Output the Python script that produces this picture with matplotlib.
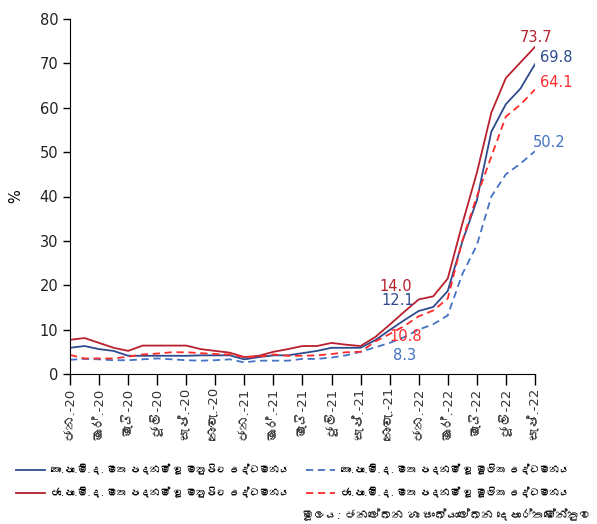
import numpy as np
import matplotlib
matplotlib.use("Agg")
from matplotlib import pyplot as plt
from matplotlib import font_manager
from matplotlib.ft2font import FT2Font


def find_font(ch):
    # look for an installed family that has the given glyph
    for f in font_manager.fontManager.ttflist:
        try:
            if ord(ch) in FT2Font(f.fname).get_charmap():
                return f.name
        except Exception:
            pass
    return None


sinhala = find_font("ක")
families = ["DejaVu Sans"]
if sinhala:
    families = ["DejaVu Sans", sinhala]
plt.rcParams["font.family"] = families

# Monthly data, Jan 2020 - Sep 2022 (%)
ncpi_headline = [7.7, 8.1, 7.0, 5.9, 5.2, 6.4, 6.4, 6.4, 6.4, 5.6, 5.2, 4.8,
                 3.8, 4.1, 5.0, 5.6, 6.3, 6.3, 7.0, 6.6, 6.3, 8.3, 11.1, 14.0,
                 16.8, 17.5, 21.5, 33.8, 45.3, 58.9, 66.7, 70.2, 73.7]
ccpi_headline = [5.9, 6.3, 5.6, 5.2, 4.1, 4.1, 4.1, 4.1, 4.1, 4.2, 4.2, 4.2,
                 3.3, 3.8, 4.2, 4.2, 4.7, 5.2, 5.9, 5.9, 5.9, 7.6, 9.9, 12.1,
                 14.2, 15.1, 18.7, 29.8, 39.1, 54.6, 60.8, 64.3, 69.8]
ncpi_core = [4.3, 3.5, 3.5, 3.5, 3.9, 4.4, 4.6, 4.9, 4.9, 4.7, 4.5, 4.4,
             3.8, 3.9, 4.4, 4.1, 4.1, 4.2, 4.5, 4.9, 5.0, 7.3, 9.0, 10.8,
             13.0, 14.3, 17.0, 30.0, 40.0, 49.0, 58.0, 60.7, 64.1]
ccpi_core = [3.2, 3.4, 3.3, 3.1, 3.1, 3.3, 3.5, 3.3, 3.1, 3.0, 3.1, 3.3,
             2.6, 3.0, 3.0, 3.0, 3.4, 3.4, 3.7, 4.2, 5.0, 6.0, 7.0, 8.3,
             10.0, 11.2, 13.2, 22.5, 29.0, 40.0, 45.0, 47.4, 50.2]

tick_labels = ["ජන.-20", "මාර්.-20", "මැයි-20", "ජූලි-20", "සැප්.-20", "නොවැ.-20",
               "ජන.-21", "මාර්.-21", "මැයි-21", "ජූලි-21", "සැප්.-21", "නොවැ.-21",
               "ජන.-22", "මාර්.-22", "මැයි-22", "ජූලි-22", "සැප්.-22"]

legend_labels = ["කො.පා.මි.ද. මත පදනම් වූ මතුපිට උද්ධමනය",
                 "ජා.පා.මි.ද. මත පදනම් වූ මතුපිට උද්ධමනය",
                 "කො.පා.මි.ද. මත පදනම් වූ මූලික උද්ධමනය",
                 "ජා.පා.මි.ද. මත පදනම් වූ මූලික උද්ධමනය"]
source = "මූලය: ජනලේඛන හා සංඛ්‍යාලේඛන දෙපාර්තමේන්තුව"

navy = "#2E4B8F"
darkred = "#B8202E"
red = "#FF2B2B"
blue = "#4472C4"
dash = (0, (4, 2.6))

n = np.arange(len(ncpi_headline))

fig = plt.figure(figsize=(5.97, 5.24), dpi=100)
ax = fig.add_axes([0.1173, 0.2863, 0.7787, 0.6774])

ax.plot(n, ccpi_headline, color=navy, lw=1.3, label=legend_labels[0])
ax.plot(n, ncpi_headline, color=darkred, lw=1.3, label=legend_labels[1])
ax.plot(n, ccpi_core, color=blue, lw=1.3, ls=dash, label=legend_labels[2])
ax.plot(n, ncpi_core, color=red, lw=1.3, ls=dash, label=legend_labels[3])

ax.set_xlim(0, 32)
ax.set_ylim(0, 80)
ax.set_yticks(np.arange(0, 81, 10))
ax.set_xticks(np.arange(0, 33, 2))
ax.set_xticklabels(tick_labels, rotation=90, fontsize=9.5, color="#333333")
ax.tick_params(axis="x", length=8, width=1, direction="out", pad=2)
ax.tick_params(axis="y", length=5, width=1, direction="out", labelsize=10.5,
               labelcolor="#222222")
for s in ["top", "right"]:
    ax.spines[s].set_visible(False)
ax.set_ylabel("%", fontsize=10.5, labelpad=12)

# end-of-series and Dec-21 value labels
fs = 10.5
last = len(n) - 1
ax.text(last + 0.07, ncpi_headline[-1] + 2.2, f"{ncpi_headline[-1]:.1f}", color=darkred,
        fontsize=fs, ha="center", va="center")
ax.text(last + 1.45, ccpi_headline[-1] + 1.6, f"{ccpi_headline[-1]:.1f}", color=navy,
        fontsize=fs, ha="center", va="center")
ax.text(last + 1.45, ncpi_core[-1] + 1.7, f"{ncpi_core[-1]:.1f}", color=red,
        fontsize=fs, ha="center", va="center")
ax.text(last + 0.97, ccpi_core[-1] + 1.9, f"{ccpi_core[-1]:.1f}", color=blue,
        fontsize=fs, ha="center", va="center")
ax.text(22.4, ncpi_headline[23] + 5.8, f"{ncpi_headline[23]:.1f}", color=darkred,
        fontsize=fs, ha="center", va="center")
ax.text(22.55, ccpi_headline[23] + 4.4, f"{ccpi_headline[23]:.1f}", color=navy,
        fontsize=fs, ha="center", va="center")
ax.text(23.1, ncpi_core[23] - 2.4, f"{ncpi_core[23]:.1f}", color=red,
        fontsize=fs, ha="center", va="center")
ax.text(23.0, ccpi_core[23] - 4.1, f"{ccpi_core[23]:.1f}", color=blue,
        fontsize=fs, ha="center", va="center")

fig.legend(loc="upper left", bbox_to_anchor=(0.012, 1 - 455 / 524), ncol=2,
           frameon=False, fontsize=7.2, handlelength=2.9, handletextpad=0.6,
           columnspacing=1.6, labelspacing=1.25)

fig.text(0.99, 0.004, source, ha="right", va="bottom", fontsize=8.5,
         style="italic", color="#222222")

fig.savefig("out.png", dpi=100)
